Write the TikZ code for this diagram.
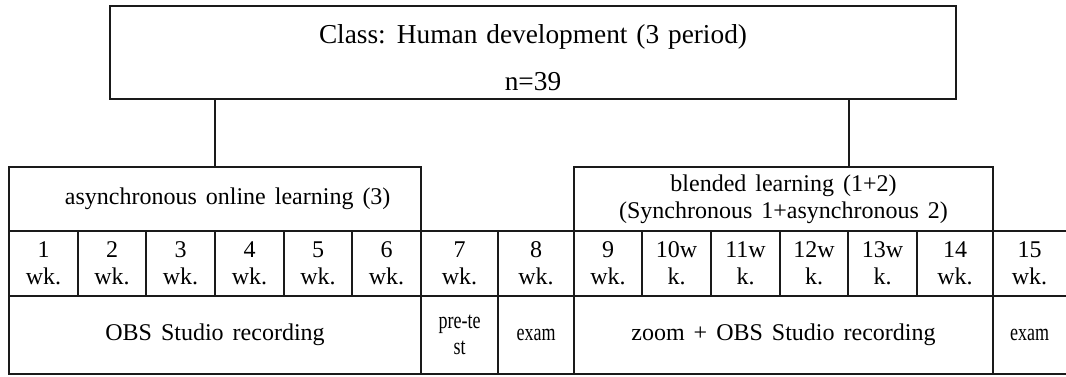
\documentclass[tikz,border=0pt]{standalone}
\usepackage{fontspec}
\setmainfont{Liberation Serif}[WordSpace=1.5]
\newfontfamily\titlefont{Liberation Serif}[WordSpace=1.3]
\newfontfamily\narrowfont{Liberation Serif}[FakeStretch=0.75]
\definecolor{GridLine}{HTML}{1A1A1A}

\begin{document}
\begin{tikzpicture}[x=0.75pt, y=-0.75pt,
  grid/.style={draw=GridLine, line width=0.8pt},
  outer/.style={draw=GridLine, line width=1.3pt},
  box/.style={grid, inner sep=0pt, align=center, font=\fontsize{18}{20}\selectfont},
  celltext/.style={align=center, inner sep=0pt, font=\fontsize{18}{20}\selectfont},
  narrow/.style={celltext, font=\narrowfont\fontsize{18}{20}\selectfont},
  titletext/.style={anchor=base, inner sep=0pt, font=\titlefont\fontsize{20.5}{24}\selectfont}]

 \useasboundingbox (0,0) rectangle (1066,377);

 %%%%%%%%%% Class box %%%%%%%%%%
 \node[box, minimum width=634.5pt, minimum height=69.75pt] (classbox) at (533,52.5) {};
 \node[titletext] (title) at (533,44) {Class: Human development (3 period)};
 \node[titletext] (size) at (533,91) {n=39};

 %%%%%%%%%% Learning types %%%%%%%%%%
 \node[box, minimum width=309pt, minimum height=48pt] (async) at (215,199)
   {\hspace*{19pt}asynchronous online learning (3)};
 \node[box, minimum width=314.25pt, minimum height=48pt] (blended) at (783.5,199)
   {blended learning (1+2)\\(Synchronous 1+asynchronous 2)};

 % stems
 \coordinate (rstem) at (849,0);
 \draw[grid] (classbox.south -| async.north) -- (async.north);
 \draw[grid] (classbox.south -| rstem) -- (blended.north -| rstem);

 %%%%%%%%%% Table %%%%%%%%%%
 \draw[grid] (9,231) -- (1066,231);
 \draw[grid] (9,296) -- (1066,296);
 \foreach \x in {78,146,215,284,352,642,711,780,848,917}
   \draw[grid] (\x,231) -- (\x,296);
 \foreach \x in {421,498,574,993}
   \draw[grid] (\x,231) -- (\x,374);
 \draw[outer] (9,167) -- (9,374) -- (1066,374);

 % weeks
 \foreach \c/\lbl [count=\i] in {43.5/{1\\wk.}, 112/{2\\wk.}, 180.5/{3\\wk.},
     249.5/{4\\wk.}, 318/{5\\wk.}, 386.5/{6\\wk.}, 459.5/{7\\wk.}, 536/{8\\wk.},
     608/{9\\wk.}, 676.5/{10w\\k.}, 745.5/{11w\\k.}, 814/{12w\\k.},
     882.5/{13w\\k.}, 955/{14\\wk.}, 1029.5/{15\\wk.}}
   \node[celltext] (wk\i) at (\c,263.5) {\lbl};

 % tools
 \node[celltext] (obs) at (215,335) {OBS Studio recording};
 \node[narrow] (pretest) at (459.5,335) {pre-te\\st};
 \node[narrow] (examA) at (536,335) {exam};
 \node[celltext] (zoomobs) at (783.5,335) {zoom + OBS Studio recording};
 \node[narrow] (examB) at (1029.5,335) {exam};

\end{tikzpicture}
\end{document}
